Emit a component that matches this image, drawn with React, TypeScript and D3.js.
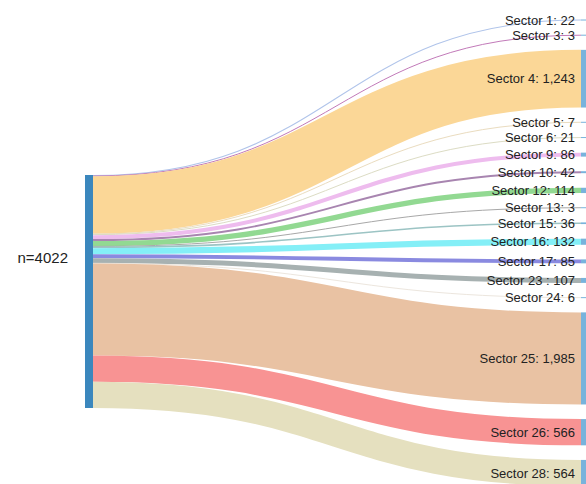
import * as d3 from "d3";
import { useEffect, useRef } from "react";

// Source node label (as printed on the chart)
const sourceLabel = "n=4022";

// Target sectors, top to bottom
const sectors: string[] = [
  "Sector 1",
  "Sector 3",
  "Sector 4",
  "Sector 5",
  "Sector 6",
  "Sector 9",
  "Sector 10",
  "Sector 12",
  "Sector 13",
  "Sector 15",
  "Sector 16",
  "Sector 17",
  "Sector 23",
  "Sector 24",
  "Sector 25",
  "Sector 26",
  "Sector 28",
];
const values: number[] = [22, 3, 1243, 7, 21, 86, 42, 114, 3, 36, 132, 85, 107, 6, 1985, 566, 564];
const labels: string[] = [
  "Sector 1: 22",
  "Sector 3: 3",
  "Sector 4: 1,243",
  "Sector 5: 7",
  "Sector 6: 21",
  "Sector 9: 86",
  "Sector 10: 42",
  "Sector 12: 114",
  "Sector 13: 3",
  "Sector 15: 36",
  "Sector 16: 132",
  "Sector 17: 85",
  "Sector 23 : 107",
  "Sector 24: 6",
  "Sector 25: 1,985",
  "Sector 26: 566",
  "Sector 28: 564",
];
const linkColors: string[] = [
  "#b0c4ea",
  "#c27ab9",
  "#fbd797",
  "#eadcbf",
  "#dcdcc4",
  "#eebcee",
  "#a885b0",
  "#92d992",
  "#a8a8a8",
  "#9cc4c4",
  "#84eff7",
  "#8a8ae0",
  "#a7b1b1",
  "#ece6de",
  "#e9c2a3",
  "#f89393",
  "#e5e0bf",
];

export default function App() {
  const width = 586;
  const height = 484;
  // node geometry
  const leftX0 = 85;
  const nodeWidth = 8;
  const rightX0 = 581;
  const leftTop = 175;
  const leftHeight = 233;
  const rightTop = 19.5;
  const nodePadding = 14.6;
  const svgRef = useRef<SVGSVGElement>(null);

  useEffect(() => {
    const svg = d3.select(svgRef.current);
    svg.selectAll("*").remove();

    const total = d3.sum(values);
    // value -> pixel thickness
    const k = d3.scaleLinear().domain([0, total]).range([0, leftHeight]);

    // stack positions on both sides
    let ySrc = leftTop;
    let yTgt = rightTop;
    const links = values.map((v, i) => {
      const w = k(v);
      const l = {
        i,
        w,
        sy: ySrc + w / 2,
        ty: yTgt + w / 2,
        ty0: yTgt,
      };
      ySrc += w;
      yTgt += w + nodePadding;
      return l;
    });

    const link = d3
      .linkHorizontal<any, any>()
      .source((d) => [leftX0 + nodeWidth, d.sy])
      .target((d) => [rightX0, d.ty]);

    // links
    svg
      .append("g")
      .attr("fill", "none")
      .selectAll("path")
      .data(links)
      .enter()
      .append("path")
      .attr("d", link)
      .attr("stroke", (d) => linkColors[d.i])
      .attr("stroke-width", (d) => Math.max(1, d.w));

    // left node
    svg
      .append("rect")
      .attr("x", leftX0)
      .attr("y", leftTop)
      .attr("width", nodeWidth)
      .attr("height", leftHeight)
      .attr("fill", "#3b87bd");

    // right nodes
    svg
      .append("g")
      .attr("fill", "#78b3dc")
      .selectAll("rect")
      .data(links)
      .enter()
      .append("rect")
      .attr("x", rightX0)
      .attr("y", (d) => (d.w < 1 ? d.ty - 0.5 : d.ty0))
      .attr("width", nodeWidth)
      .attr("height", (d) => Math.max(1, d.w));

    // right labels
    svg
      .append("g")
      .attr("font-family", "Liberation Sans, Arial, sans-serif")
      .attr("font-size", 13)
      .attr("fill", "#222")
      .attr("text-anchor", "end")
      .selectAll("text")
      .data(links)
      .enter()
      .append("text")
      .attr("x", rightX0 - 6)
      .attr("y", (d) => d.ty)
      .attr("dy", "0.35em")
      .text((d) => labels[d.i]);

    // left label
    svg
      .append("text")
      .attr("x", 68)
      .attr("y", 258)
      .attr("dy", "0.35em")
      .attr("text-anchor", "end")
      .attr("font-family", "Liberation Sans, Arial, sans-serif")
      .attr("font-size", 15)
      .attr("fill", "#222")
      .text(sourceLabel);
  }, []);

  return (
    <svg
      ref={svgRef}
      width={width}
      height={height}
      style={{ position: "absolute", left: 0, top: 0, background: "#fff" }}
    />
  );
}
